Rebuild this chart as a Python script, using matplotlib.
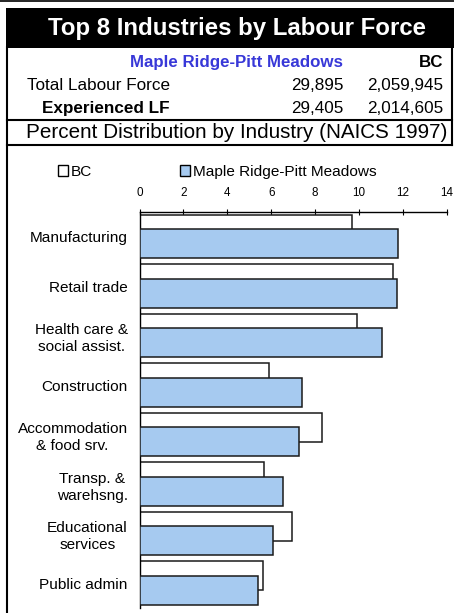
import matplotlib
matplotlib.use("Agg")
import matplotlib.pyplot as plt
from matplotlib.patches import Rectangle, Patch
from matplotlib.lines import Line2D
import numpy as np

plt.rcParams['font.family'] = ['Liberation Sans', 'DejaVu Sans']

# ---- data ----
title = "Top 8 Industries by Labour Force"
region = "Maple Ridge-Pitt Meadows"
province = "BC"
row_labels = ["Total Labour Force", "Experienced LF"]
region_counts = ["29,895", "29,405"]
bc_counts = ["2,059,945", "2,014,605"]
subtitle = "Percent Distribution by Industry (NAICS 1997)"

categories = ["Manufacturing", "Retail trade", "Health care &\nsocial assist.",
              "Construction", "Accommodation\n& food srv.", "Transp. &\nwarehsng.",
              "Educational\nservices", "Public admin"]
bc_values = [9.67, 11.57, 9.93, 5.89, 8.30, 5.67, 6.94, 5.61]
region_values = [11.80, 11.72, 11.04, 7.39, 7.27, 6.55, 6.10, 5.42]
x_ticks = [0, 2, 4, 6, 8, 10, 12, 14]

W, H = 454, 613
fig = plt.figure(figsize=(W / 100, H / 100), dpi=100)

def fx(x):
    return x / W

def fy(y):
    return 1 - y / H

def hline(y, x0, x1, lw=1.5):
    fig.add_artist(Line2D([fx(x0), fx(x1)], [fy(y), fy(y)], color='black', lw=lw,
                          transform=fig.transFigure))

def vline(x, y0, y1, lw=1.5):
    fig.add_artist(Line2D([fx(x), fx(x)], [fy(y0), fy(y1)], color='black', lw=lw,
                          transform=fig.transFigure))

# ---- header ----
hline(0.7, 0, W, lw=1.2)
fig.add_artist(Rectangle((fx(6), fy(47.5)), fx(W) - fx(6), fy(8) - fy(47.5),
                         facecolor='black', edgecolor='none', transform=fig.transFigure))
fig.text(fx(237), fy(28.5), title, color='white', fontsize=17.3, fontweight='bold',
         ha='center', va='center')
vline(7, 47, H)
vline(451.5, 47, 145)
hline(120, 7, 452)
hline(145, 7, 452)

blue = '#3838D8'
fig.text(fx(343), fy(62.5), region, color=blue, fontsize=12.2, fontweight='bold',
         ha='right', va='center')
fig.text(fx(443), fy(62.5), province, color='black', fontsize=12.2, fontweight='bold',
         ha='right', va='center')
fig.text(fx(27), fy(85.5), row_labels[0], fontsize=12.3, ha='left', va='center')
fig.text(fx(42), fy(108.5), row_labels[1], fontsize=12.3, fontweight='bold', ha='left', va='center')
for i, yy in enumerate([85.5, 108.5]):
    fig.text(fx(343), fy(yy), region_counts[i], fontsize=12.3, ha='right', va='center')
    fig.text(fx(443), fy(yy), bc_counts[i], fontsize=12.3, ha='right', va='center')
fig.text(fx(236.5), fy(133), subtitle, fontsize=14.9, ha='center', va='center')

# ---- chart ----
ax_l, ax_r, ax_t, ax_b = 139.5, 446.7, 211.7, 608
ax = fig.add_axes([fx(ax_l), fy(ax_b), fx(ax_r) - fx(ax_l), fy(ax_t) - fy(ax_b)])
ax.patch.set_alpha(0)

y = np.arange(len(categories))
h = 0.586
off = 0.147
fill_blue = '#A6CAF0'
edge = '#1a1a1a'
ax.barh(y - off, bc_values, height=h, color='white', edgecolor=edge, linewidth=1.1,
        label=province, zorder=2)
ax.barh(y + off, region_values, height=h, color=fill_blue, edgecolor=edge, linewidth=1.1,
        label=region, zorder=3)

ax.set_xlim(0, 14)
ax.set_ylim(len(categories) - 0.5, -0.5)
ax.xaxis.tick_top()
ax.set_xticks(x_ticks)
ax.set_xticklabels([str(t) for t in x_ticks])
ax.tick_params(axis='x', direction='inout', length=4, width=0.8, pad=7, labelsize=8.4,
               colors='black')
ax.set_yticks(y)
ax.set_yticklabels(categories)
ax.tick_params(axis='y', length=0, pad=8.5, labelsize=11.1)
for lab in ax.get_yticklabels():
    lab.set_multialignment('center')
    lab.set_linespacing(1.3)

for s in ['right', 'bottom']:
    ax.spines[s].set_visible(False)
ax.spines['top'].set_linewidth(1.0)
ax.spines['left'].set_linewidth(1.0)

handles = [Patch(facecolor='white', edgecolor='black', linewidth=1.0),
           Patch(facecolor=fill_blue, edgecolor='black', linewidth=1.0)]
fig.legend(handles, [province, region], loc='center left',
           bbox_to_anchor=(fx(58), fy(172)), bbox_transform=fig.transFigure,
           ncol=2, frameon=False, fontsize=11.1, handlelength=0.65, handleheight=0.65,
           handletextpad=0.2, columnspacing=5.7, borderpad=0, borderaxespad=0)

fig.savefig("out.png", dpi=100)
